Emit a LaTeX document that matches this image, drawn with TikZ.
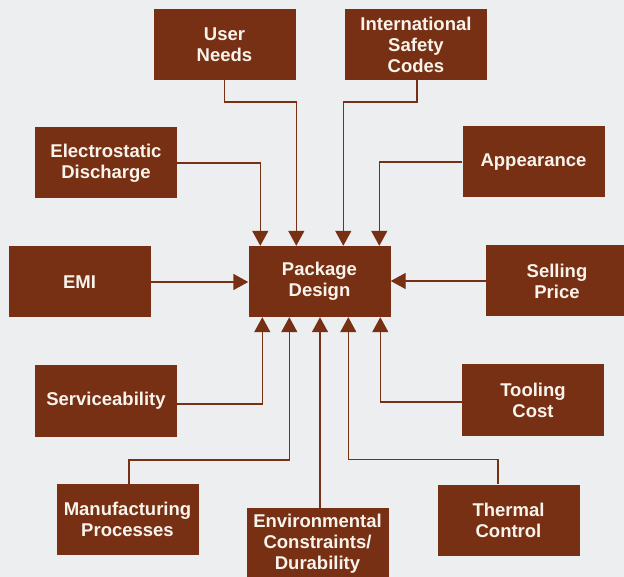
\documentclass[tikz,border=0pt]{standalone}
\usepackage{fontspec}
\setmainfont{Liberation Sans}
\usepackage{xcolor}
\usetikzlibrary{arrows.meta}
\definecolor{boxbrown}{RGB}{120,48,20}
\definecolor{boxtext}{RGB}{248,244,236}
\definecolor{paper}{RGB}{236,238,240}

\begin{document}
\begin{tikzpicture}[
    x=1pt, y=-1pt,
    factor/.style={fill=boxbrown, text=boxtext, minimum width=142pt,
        minimum height=71pt, inner sep=0pt, align=center},
    flow/.style={draw=boxbrown, line width=1.4pt,
        -{Triangle[width=16pt,length=15pt]}},
    every node/.style={font=\bfseries\fontsize{18.5}{21}\selectfont}
]
    \fill[paper] (0,0) rectangle (624,577);
    \useasboundingbox (0,0) rectangle (624,577);

    \node[factor] (pkg) at (319.5,281.5) {Package\\Design};

    \node[factor] (user) at (224.5,44.5) {User\\Needs};
    \node[factor] (safety) at (416,44.5) {International\\Safety\\Codes};
    \node[factor] (esd) at (106,163) {Electrostatic\\Discharge};
    \node[factor] (look) at (533.5,162) {Appearance};
    \node[factor] (emi) at (79.5,282) {EMI};
    \node[factor] (price) at (557,281) {Selling\\Price};
    \node[factor] (service) at (106,401) {Serviceability};
    \node[factor] (tooling) at (533,400) {Tooling\\Cost};
    \node[factor] (manuf) at (127.5,519.5) {Manufacturing\\Processes};
    \node[factor] (thermal) at (508.5,520) {Thermal\\Control};
    \node[factor] (env) at (317.5,543.5) {Environmental\\Constraints/\\Durability};

    % entry points on the package box
    \coordinate (top1) at ([xshift=12pt]pkg.north west);
    \coordinate (top2) at ([xshift=48pt]pkg.north west);
    \coordinate (top3) at ([xshift=95pt]pkg.north west);
    \coordinate (top4) at ([xshift=131pt]pkg.north west);
    \coordinate (bot1) at ([xshift=14pt]pkg.south west);
    \coordinate (bot2) at ([xshift=41pt]pkg.south west);
    \coordinate (bot4) at ([xshift=100pt]pkg.south west);
    \coordinate (bot5) at ([xshift=132pt]pkg.south west);

    \draw[flow] (esd.east) -| (top1);
    \draw[flow] (user.south) -- ++(0,22) -| (top2);
    \draw[flow] ([xshift=1pt]safety.south) -- ++(0,22) -| (top3);
    \draw[flow] (look.west) -| (top4);
    \draw[flow] (emi.east) -- (emi.east -| pkg.west);
    \draw[flow] (price.west) -- (price.west -| pkg.east);

    \draw[flow] ([yshift=-3pt]service.east) -| (bot1);
    \draw[flow] ([xshift=1.5pt]manuf.north) -- ++(0,-24) -| (bot2);
    \draw[flow] ([xshift=2.5pt]env.north) -- ([xshift=2.5pt]env.north |- pkg.south);
    \draw[flow] ([xshift=-10.5pt]thermal.north) -- ++(0,-25) -| (bot4);
    \draw[flow] ([yshift=-2pt]tooling.west) -| (bot5);
\end{tikzpicture}
\end{document}
